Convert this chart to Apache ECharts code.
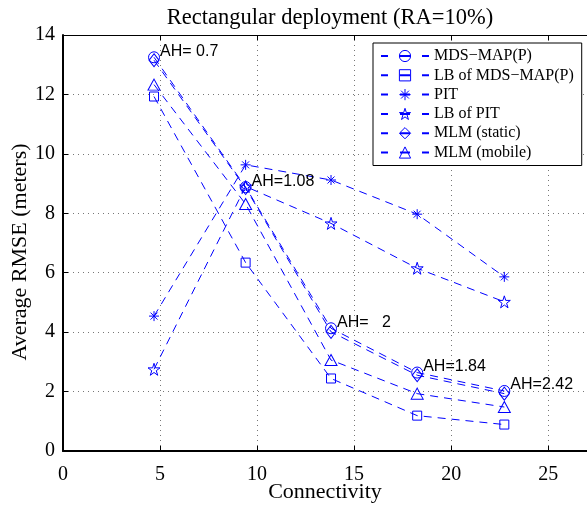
<!DOCTYPE html>
<html>
<head>
  <meta charset="utf-8"/>
  <script src="https://cdn.jsdelivr.net/npm/echarts@6/dist/echarts.min.js"></script>
  <style>
    html, body { margin: 0; padding: 0; background: #fff; }
  </style>
</head>
<body>
  <div id="chartmain" style="width:587px; height:506px;"></div>

  <script type="text/javascript">
    // data
    var connectivity = [4.69, 9.41, 13.81, 18.25, 22.74];
    var mdsMap = [13.25, 8.88, 4.13, 2.64, 2.02];
    var lbMdsMap = [11.93, 6.34, 2.44, 1.19, 0.89];
    var pit = [4.54, 9.63, 9.12, 7.97, 5.86];
    var lbPit = [2.75, 8.9, 7.66, 6.15, 5.02];
    var mlmStatic = [13.15, 8.85, 4.01, 2.55, 1.93];
    var mlmMobile = [12.33, 8.31, 3.06, 1.93, 1.48];
    var ahLabels = ['AH= 0.7', 'AH=1.08', 'AH=   2', 'AH=1.84', 'AH=2.42'];
    var seriesNames = ['MDS\u2212MAP(P)', 'LB of MDS\u2212MAP(P)', 'PIT', 'LB of PIT', 'MLM (static)', 'MLM (mobile)'];
    var xTicks = [0, 5, 10, 15, 20, 25];
    var yTicks = [0, 2, 4, 6, 8, 10, 12, 14];

    var blue = '#0000ff';
    var serif = 'Liberation Serif';
    var hollow = 'rgba(255,255,255,0)';

    // marker shapes (matlab style)
    var starPath = 'path://M10,0L12.25,6.91L19.51,6.91L13.63,11.18L15.88,18.09L10,13.82L4.12,18.09L6.37,11.18L0.49,6.91L7.75,6.91Z';
    var asteriskPath = 'path://M10,0L10,20M0,10L20,10M3,3L17,17M3,17L17,3';

    function pairs(ys) {
      var out = [];
      for (var i = 0; i < ys.length; i++) out.push([connectivity[i], ys[i]]);
      return out;
    }

    function makeSeries(name, ys, symbol, size) {
      return {
        name: name,
        type: 'line',
        data: pairs(ys),
        symbol: symbol,
        symbolSize: size,
        showSymbol: true,
        lineStyle: { color: blue, width: 1, type: [8, 6] },
        itemStyle: { color: hollow, borderColor: blue, borderWidth: 1 },
        emphasis: { disabled: true },
        z: 3
      };
    }

    var series = [
      makeSeries(seriesNames[0], mdsMap, 'circle', 11),
      makeSeries(seriesNames[1], lbMdsMap, 'rect', 9),
      makeSeries(seriesNames[2], pit, asteriskPath, 10),
      makeSeries(seriesNames[3], lbPit, starPath, 12),
      makeSeries(seriesNames[4], mlmStatic, 'diamond', [10, 13]),
      makeSeries(seriesNames[5], mlmMobile, 'triangle', [12, 11])
    ];
    series[0].label = {
      show: true,
      position: 'right',
      distance: 0,
      offset: [0, -6],
      fontFamily: 'Liberation Sans',
      fontSize: 16,
      color: '#000',
      formatter: function (p) { return ahLabels[p.dataIndex]; }
    };

    var option = {
      animation: false,
      backgroundColor: '#fff',
      title: {
        text: 'Rectangular deployment (RA=10%)',
        left: 325,
        textAlign: 'center',
        top: 2,
        textStyle: { fontFamily: serif, fontSize: 22.5, fontWeight: 'normal', color: '#000' }
      },
      legend: {
        orient: 'vertical',
        left: 373,
        top: 43,
        padding: [5, 8, 5, 7],
        itemWidth: 48,
        itemHeight: 14,
        itemGap: 3.3,
        selectedMode: false,
        backgroundColor: '#fff',
        borderColor: '#000',
        borderWidth: 1,
        itemStyle: { color: hollow, borderColor: blue, borderWidth: 1 },
        lineStyle: { type: [7, 12, 10, 12, 7] },
        textStyle: { fontFamily: serif, fontSize: 16, color: '#000' },
        data: seriesNames
      },
      grid: { left: 63, right: 0, top: 35, bottom: 55, outerBoundsMode: 'none', containLabel: false },
      xAxis: [{
        type: 'value',
        min: 0,
        max: 27,
        interval: 5,
        name: 'Connectivity',
        nameLocation: 'middle',
        nameGap: 30,
        nameMoveOverlap: false,
        nameTextStyle: { fontFamily: serif, fontSize: 22, color: '#000' },
        axisLine: { lineStyle: { color: '#000', width: 2 } },
        axisTick: { inside: true, length: 5, lineStyle: { color: '#000' } },
        axisLabel: {
          margin: 14,
          fontFamily: serif,
          fontSize: 20,
          color: '#000',
          showMaxLabel: false,
          formatter: function (v) { return xTicks.indexOf(v) >= 0 ? String(v) : ''; }
        },
        splitLine: { show: true, lineStyle: { color: '#777', type: [1, 4] } }
      }, {
        type: 'value',
        position: 'top',
        min: 0,
        max: 27,
        interval: 5,
        axisLine: { show: true, lineStyle: { color: '#000', width: 1 } },
        axisTick: { inside: true, length: 5, lineStyle: { color: '#000' } },
        axisLabel: { show: false },
        splitLine: { show: false }
      }],
      yAxis: {
        type: 'value',
        min: 0,
        max: 14,
        interval: 2,
        name: 'Average RMSE (meters)',
        nameLocation: 'middle',
        nameGap: 32,
        nameMoveOverlap: false,
        nameTextStyle: { fontFamily: serif, fontSize: 22, color: '#000', padding: [0, 18, 0, 0] },
        axisLine: { show: true, lineStyle: { color: '#000', width: 2 } },
        axisTick: { show: true, inside: true, length: 5, lineStyle: { color: '#000' } },
        axisLabel: {
          margin: 8,
          fontFamily: serif,
          fontSize: 20,
          color: '#000',
          formatter: function (v) { return yTicks.indexOf(v) >= 0 ? String(v) : ''; }
        },
        splitLine: { show: true, lineStyle: { color: '#777', type: [1, 4] } }
      },
      series: series
    };

    var myChart = echarts.init(document.getElementById('chartmain'));
    myChart.setOption(option);
  </script>
</body>
</html>
